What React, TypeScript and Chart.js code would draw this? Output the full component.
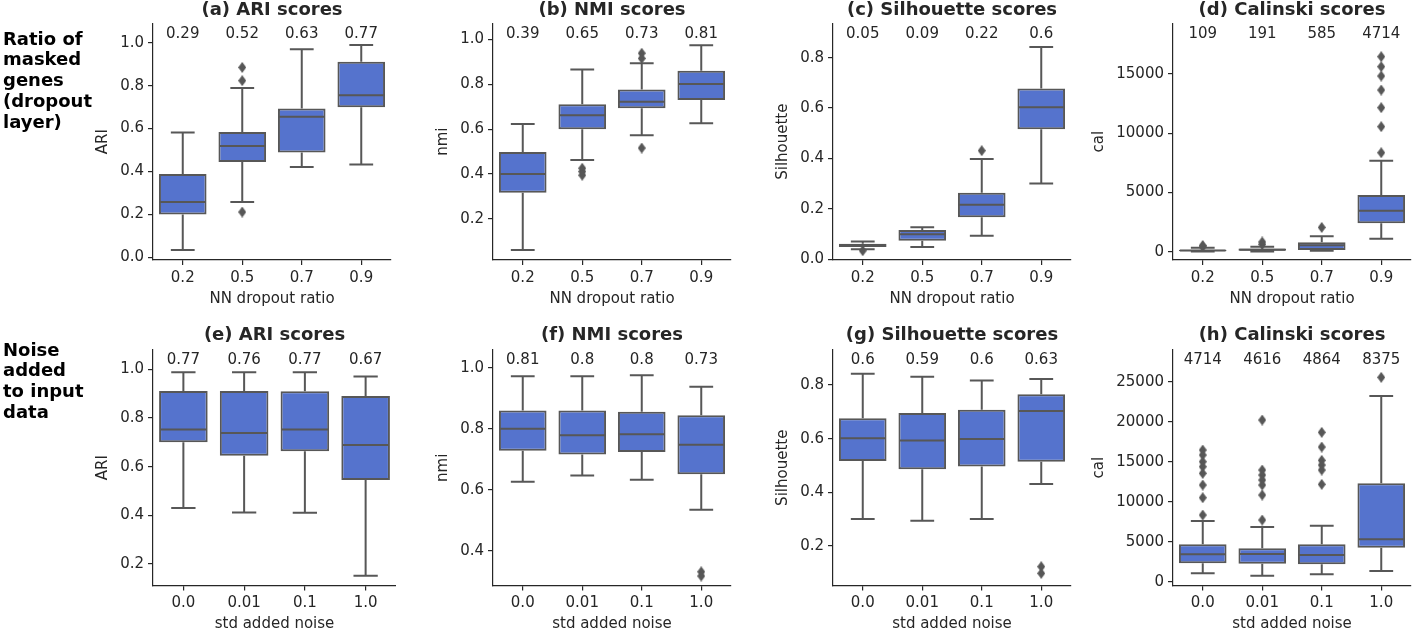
import React, { useEffect, useRef } from 'react';
import { Chart, registerables } from 'chart.js';

Chart.register(...registerables);
Chart.defaults.font.family = '"DejaVu Sans", sans-serif';

// ---------- categories ----------
const dropoutCats = ['0.2', '0.5', '0.7', '0.9'];
const noiseCats = ['0.0', '0.01', '0.1', '1.0'];

// ---------- (a) ARI, dropout ----------
const aLo = [0.034, 0.258, 0.421, 0.432];
const aQ1 = [0.2, 0.444, 0.488, 0.699];
const aMed = [0.258, 0.519, 0.655, 0.755];
const aQ3 = [0.388, 0.584, 0.693, 0.911];
const aHi = [0.581, 0.789, 0.969, 0.989];
const aOut = [[], [0.885, 0.823, 0.211], [], []];
const aMeans = ['0.29', '0.52', '0.63', '0.77'];
const aTicks = [0, 0.2, 0.4, 0.6, 0.8, 1.0];

// ---------- (b) NMI, dropout ----------
const bLo = [0.062, 0.463, 0.573, 0.626];
const bQ1 = [0.317, 0.599, 0.693, 0.73];
const bMed = [0.4, 0.662, 0.722, 0.801];
const bQ3 = [0.498, 0.711, 0.777, 0.86];
const bHi = [0.623, 0.865, 0.893, 0.973];
const bOut = [[], [0.426, 0.411, 0.395], [0.938, 0.915, 0.516], []];
const bMeans = ['0.39', '0.65', '0.73', '0.81'];
const bTicks = [0.2, 0.4, 0.6, 0.8, 1.0];

// ---------- (c) Silhouette, dropout ----------
const cLo = [0.04, 0.049, 0.093, 0.301];
const cQ1 = [0.049, 0.074, 0.167, 0.516];
const cMed = [0.056, 0.099, 0.216, 0.603];
const cQ3 = [0.062, 0.116, 0.264, 0.678];
const cHi = [0.071, 0.127, 0.398, 0.842];
const cOut = [[0.034], [], [0.431], []];
const cMeans = ['0.05', '0.09', '0.22', '0.6'];
const cTicks = [0, 0.2, 0.4, 0.6, 0.8];

// ---------- (d) Calinski, dropout ----------
const dLo = [10, 20, 80, 1097];
const dQ1 = [45, 90, 143, 2392];
const dMed = [95, 170, 540, 3461];
const dQ3 = [160, 280, 793, 4784];
const dHi = [330, 420, 1300, 7682];
const dOut = [[420, 520], [620, 820], [2050], [16462, 15618, 14830, 13648, 12157, 10553, 8357]];
const dMeans = ['109', '191', '585', '4714'];
const dTicks = [0, 5000, 10000, 15000];

// ---------- (e) ARI, noise ----------
const eLo = [0.43, 0.412, 0.411, 0.152];
const eQ1 = [0.7, 0.645, 0.663, 0.545];
const eMed = [0.753, 0.738, 0.753, 0.689];
const eQ3 = [0.911, 0.911, 0.91, 0.89];
const eHi = [0.988, 0.988, 0.988, 0.97];
const eOut = [[], [], [], []];
const eMeans = ['0.77', '0.76', '0.77', '0.67'];
const eTicks = [0.2, 0.4, 0.6, 0.8, 1.0];

// ---------- (f) NMI, noise ----------
const fLo = [0.627, 0.647, 0.633, 0.535];
const fQ1 = [0.728, 0.716, 0.724, 0.651];
const fMed = [0.8, 0.779, 0.782, 0.748];
const fQ3 = [0.86, 0.86, 0.856, 0.844];
const fHi = [0.972, 0.972, 0.975, 0.938];
const fOut = [[], [], [], [0.332, 0.318]];
const fMeans = ['0.81', '0.8', '0.8', '0.73'];
const fTicks = [0.4, 0.6, 0.8, 1.0];

// ---------- (g) Silhouette, noise ----------
const gLo = [0.301, 0.294, 0.301, 0.431];
const gQ1 = [0.517, 0.486, 0.496, 0.514];
const gMed = [0.602, 0.593, 0.599, 0.703];
const gQ3 = [0.676, 0.696, 0.708, 0.766];
const gHi = [0.842, 0.831, 0.817, 0.822];
const gOut = [[], [], [], [0.123, 0.098]];
const gMeans = ['0.6', '0.59', '0.6', '0.63'];
const gTicks = [0.2, 0.4, 0.6, 0.8];

// ---------- (h) Calinski, noise ----------
const hLo = [1042, 750, 917, 1333];
const hQ1 = [2292, 2250, 2167, 4250];
const hMed = [3417, 3458, 3333, 5292];
const hQ3 = [4667, 4167, 4667, 12292];
const hHi = [7583, 6833, 7000, 23208];
const hOut = [
  [16460, 15833, 15000, 14375, 13542, 12083, 10500, 8333],
  [20208, 13958, 13333, 12708, 12083, 10833, 7708],
  [18667, 16833, 15167, 14583, 13958, 12167],
  [25542],
];
const hMeans = ['4714', '4616', '4864', '8375'];
const hTicks = [0, 5000, 10000, 15000, 20000, 25000];

// ---------- styles / layout ----------
const BOX = '#5573cd';
const LINE = '#575757';
const TEXT = '#262626';
const AXIS = '#262626';
const COL_X = [153, 493, 833, 1173];
const PLOT_W = 243;
const Y_W = 110;
const ROWS = [
  { canvasTop: 0, canvasH: 315, top: 23.3, bottom: 260, titleY: 10 },
  { canvasTop: 315, canvasH: 316, top: 350, bottom: 585.5, titleY: 20 },
];

type PanelDef = {
  title: string; yLabel: string; xLabel: string; cats: string[];
  lo: number[]; q1: number[]; med: number[]; q3: number[]; hi: number[];
  out: number[][]; means: string[]; ticks: number[]; dec: number;
  yMin: number; yMax: number; row: number; col: number;
};

const panels: PanelDef[] = [
  { title: '(a) ARI scores', yLabel: 'ARI', xLabel: 'NN dropout ratio', cats: dropoutCats, lo: aLo, q1: aQ1, med: aMed, q3: aQ3, hi: aHi, out: aOut, means: aMeans, ticks: aTicks, dec: 1, yMin: -0.0126, yMax: 1.0904, row: 0, col: 0 },
  { title: '(b) NMI scores', yLabel: 'nmi', xLabel: 'NN dropout ratio', cats: dropoutCats, lo: bLo, q1: bQ1, med: bMed, q3: bQ3, hi: bHi, out: bOut, means: bMeans, ticks: bTicks, dec: 1, yMin: 0.0175, yMax: 1.0712, row: 0, col: 1 },
  { title: '(c) Silhouette scores', yLabel: 'Silhouette', xLabel: 'NN dropout ratio', cats: dropoutCats, lo: cLo, q1: cQ1, med: cMed, q3: cQ3, hi: cHi, out: cOut, means: cMeans, ticks: cTicks, dec: 1, yMin: -0.0028, yMax: 0.9365, row: 0, col: 2 },
  { title: '(d) Calinski scores', yLabel: 'cal', xLabel: 'NN dropout ratio', cats: dropoutCats, lo: dLo, q1: dQ1, med: dMed, q3: dQ3, hi: dHi, out: dOut, means: dMeans, ticks: dTicks, dec: 0, yMin: -700, yMax: 19280, row: 0, col: 3 },
  { title: '(e) ARI scores', yLabel: 'ARI', xLabel: 'std added noise', cats: noiseCats, lo: eLo, q1: eQ1, med: eMed, q3: eQ3, hi: eHi, out: eOut, means: eMeans, ticks: eTicks, dec: 1, yMin: 0.1117, yMax: 1.0793, row: 1, col: 0 },
  { title: '(f) NMI scores', yLabel: 'nmi', xLabel: 'std added noise', cats: noiseCats, lo: fLo, q1: fQ1, med: fMed, q3: fQ3, hi: fHi, out: fOut, means: fMeans, ticks: fTicks, dec: 1, yMin: 0.287, yMax: 1.058, row: 1, col: 1 },
  { title: '(g) Silhouette scores', yLabel: 'Silhouette', xLabel: 'std added noise', cats: noiseCats, lo: gLo, q1: gQ1, med: gMed, q3: gQ3, hi: gHi, out: gOut, means: gMeans, ticks: gTicks, dec: 1, yMin: 0.0528, yMax: 0.9305, row: 1, col: 2 },
  { title: '(h) Calinski scores', yLabel: 'cal', xLabel: 'std added noise', cats: noiseCats, lo: hLo, q1: hQ1, med: hMed, q3: hQ3, hi: hHi, out: hOut, means: hMeans, ticks: hTicks, dec: 0, yMin: -475, yMax: 28962, row: 1, col: 3 },
];

function makeDiamond(w: number, h: number, color: string) {
  const c = document.createElement('canvas');
  c.width = w; c.height = h;
  const ctx = c.getContext('2d')!;
  ctx.fillStyle = color;
  ctx.beginPath();
  ctx.moveTo(w / 2, 0); ctx.lineTo(w, h / 2); ctx.lineTo(w / 2, h); ctx.lineTo(0, h / 2);
  ctx.closePath(); ctx.fill();
  return c;
}

function Panel({ p }: { p: PanelDef }) {
  const ref = useRef<HTMLCanvasElement>(null);
  const row = ROWS[p.row];
  const canvasLeft = COL_X[p.col] - Y_W;
  const canvasW = Y_W + PLOT_W;

  useEffect(() => {
    const fmt = (v: number) => Number(v).toFixed(p.dec);
    const diamond = makeDiamond(8, 11, LINE);
    const outPts: { x: string; y: number }[] = [];
    p.out.forEach((arr, i) => arr.forEach((v) => outPts.push({ x: p.cats[i], y: v })));

    const partsPlugin = {
      id: 'boxparts',
      afterDatasetsDraw(chart: any) {
        const { ctx, chartArea: ca, scales } = chart;
        const x = scales.x, y = scales.y;
        const step = x.getPixelForValue(1) - x.getPixelForValue(0);
        const boxHalf = (step * 0.8) / 2;
        const capHalf = boxHalf / 2;
        ctx.save();
        ctx.strokeStyle = LINE;
        ctx.lineWidth = 2;
        p.cats.forEach((_c, i) => {
          const cx = x.getPixelForValue(i);
          const yq1 = y.getPixelForValue(p.q1[i]);
          const yq3 = y.getPixelForValue(p.q3[i]);
          const ylo = y.getPixelForValue(p.lo[i]);
          const yhi = y.getPixelForValue(p.hi[i]);
          const ymed = y.getPixelForValue(p.med[i]);
          ctx.beginPath();
          ctx.moveTo(cx, yq3); ctx.lineTo(cx, yhi);
          ctx.moveTo(cx, yq1); ctx.lineTo(cx, ylo);
          ctx.moveTo(cx - capHalf, yhi); ctx.lineTo(cx + capHalf, yhi);
          ctx.moveTo(cx - capHalf, ylo); ctx.lineTo(cx + capHalf, ylo);
          ctx.moveTo(cx - boxHalf + 1, ymed); ctx.lineTo(cx + boxHalf - 1, ymed);
          ctx.stroke();
        });
        ctx.fillStyle = TEXT;
        ctx.textAlign = 'center';
        ctx.textBaseline = 'middle';
        ctx.font = '15px "DejaVu Sans"';
        p.means.forEach((m, i) => ctx.fillText(m, x.getPixelForValue(i), ca.top + 10.5));
        ctx.fillText(p.xLabel, (ca.left + ca.right) / 2, ca.bottom + 39);
        const maxW = Math.max(...p.ticks.map((t) => ctx.measureText(fmt(t)).width));
        ctx.font = 'bold 18px "DejaVu Sans"';
        ctx.fillText(p.title, (ca.left + ca.right) / 2, row.titleY);
        ctx.font = '15px "DejaVu Sans"';
        ctx.translate(ca.left - maxW - 26, (ca.top + ca.bottom) / 2);
        ctx.rotate(-Math.PI / 2);
        ctx.fillText(p.yLabel, 0, 0);
        ctx.restore();
      },
    };

    const chart = new Chart(ref.current!, {
      type: 'bar',
      data: {
        labels: p.cats,
        datasets: [
          {
            type: 'bar',
            data: p.q1.map((v, i) => [v, p.q3[i]]) as any,
            backgroundColor: BOX,
            borderColor: LINE,
            borderWidth: 2,
            borderSkipped: false,
            barPercentage: 0.8,
            categoryPercentage: 1,
            order: 1,
          } as any,
          {
            type: 'line',
            data: outPts as any,
            showLine: false,
            pointStyle: diamond as any,
            pointRadius: 5,
            pointBackgroundColor: LINE,
            pointBorderWidth: 0,
            order: 0,
          } as any,
        ],
      },
      options: {
        responsive: false,
        animation: false,
        events: [],
        layout: { padding: { top: row.top - row.canvasTop, left: 0, right: 0, bottom: 0 } },
        plugins: { legend: { display: false }, tooltip: { enabled: false }, title: { display: false } },
        scales: {
          x: {
            type: 'category',
            offset: true,
            grid: { display: true, drawOnChartArea: false, drawTicks: true, tickLength: 5, color: AXIS, offset: false, lineWidth: 1.2 },
            border: { display: true, color: AXIS, width: 1.2 },
            ticks: { color: TEXT, font: { size: 15 }, padding: 4, maxRotation: 0, autoSkip: false },
            afterFit: (s: any) => { s.height = row.canvasH - (row.bottom - row.canvasTop); },
          },
          y: {
            type: 'linear',
            min: p.yMin,
            max: p.yMax,
            grid: { display: true, drawOnChartArea: false, drawTicks: true, tickLength: 5, color: AXIS, lineWidth: 1.2 },
            border: { display: true, color: AXIS, width: 1.2 },
            ticks: { color: TEXT, font: { size: 15 }, padding: 4, callback: (v: any) => fmt(v) },
            afterBuildTicks: (s: any) => { s.ticks = p.ticks.map((v) => ({ value: v })); },
            afterFit: (s: any) => { s.width = Y_W; },
          },
        } as any,
      },
      plugins: [partsPlugin],
    });
    return () => chart.destroy();
  }, []);

  return (
    <canvas
      ref={ref}
      width={canvasW}
      height={row.canvasH}
      style={{ position: 'absolute', left: canvasLeft, top: row.canvasTop, width: canvasW, height: row.canvasH }}
    />
  );
}

const rowLabel1 = ['Ratio of', 'masked', 'genes', '(dropout', 'layer)'];
const rowLabel2 = ['Noise', 'added', 'to input', 'data'];

export default function App() {
  const labelStyle: React.CSSProperties = {
    position: 'absolute',
    left: 3,
    fontFamily: '"DejaVu Sans", sans-serif',
    fontWeight: 'bold',
    fontSize: 18,
    lineHeight: '20.8px',
    color: '#000',
    whiteSpace: 'pre',
  };
  return (
    <div style={{ position: 'absolute', left: 0, top: 0, width: 1416, height: 631, overflow: 'hidden', background: '#fff' }}>
      {panels.map((p, i) => (
        <Panel key={i} p={p} />
      ))}
      <div style={{ ...labelStyle, top: 28.6 }}>{rowLabel1.join('\n')}</div>
      <div style={{ ...labelStyle, top: 339.6 }}>{rowLabel2.join('\n')}</div>
    </div>
  );
}
